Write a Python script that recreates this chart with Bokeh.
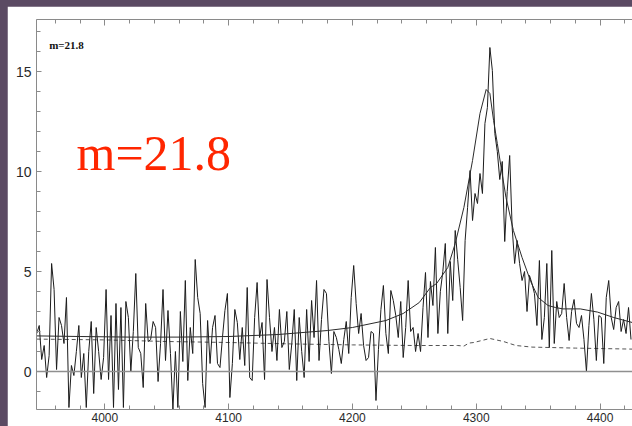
import numpy as np
from bokeh.plotting import figure
from bokeh.models import (LinearAxis, SingleIntervalTicker, Span, Range1d,
                          GlobalInlineStyleSheet, CustomLabelingPolicy)
from bokeh.core.properties import value
from bokeh.embed import file_html
from bokeh.resources import INLINE

# ---------------- data ----------------
wave_start = 3945
wave_step = 2

flux_3945_4023 = [1.9, 2.3, 0.6, 1.3, -0.3, 0.8, 5.4, 4.1, 0.1, 2.7,
                  2.3, 1.4, 3.7, -1.8, 0.3, -0.2, 1.0, 2.3, -0.3, 0.9,
                  -1.8, 1.0, 2.5, -1.1, 2.2, 1.0, -0.4, 0.7, 4.1, -0.4,
                  2.8, -1.8, 3.4, -0.9, 3.2, -1.8, 3.5, 2.7, 0.0, 2.0]
flux_4025_4105 = [4.9, 1.2, 0.9, -0.8, 3.4, 1.5, 1.6, 2.5, 2.2, -0.5,
                  1.4, 4.1, 0.55, 3.05, 0.9, -1.9, 1.0, -1.8, 3.0, 0.5,
                  4.55, -0.45, 2.2, 0.9, 5.6, 3.7, 2.9, -0.6, -1.8, 2.55,
                  0.4, 2.2, 2.8, 0.4, 0.2, 1.7, 3.05, 3.9, -1.3, 0.4, 3.1]
flux_4107_4187 = [2.45, 0.6, 2.2, 0.3, 4.2, -0.3, -0.45, 2.7, 4.45, 1.7,
                  2.45, -0.4, 4.6, 2.7, 1.0, 2.2, 0.55, 3.1, 1.2, 1.5,
                  3.0, 0.1, 1.4, 3.1, -0.45, 2.7, 1.0, -0.3, 3.1, 0.5,
                  3.55, 1.7, 4.55, 0.55, 2.6, 4.1, 3.9, 1.5, -0.1, 2.0, 1.7]
flux_4189_4267 = [1.1, 0.4, 1.6, 2.5, 0.9, 3.7, 5.3, 3.4, 1.9, 2.9,
                  1.3, 0.55, 0.7, 2.0, 1.9, -1.45, 1.1, 3.1, 4.3, 1.9,
                  0.9, 4.05, 3.55, 2.8, 1.7, 3.5, 0.7, 2.2, 4.55, 2.0,
                  2.2, 1.0, 1.9, 1.0, 3.2, 4.95, 1.7, 4.5, 3.3, 6.2]
flux_4269_4343 = [1.9, 4.0, 5.0, 6.4, 1.9, 5.5, 3.55, 7.05, 5.6, 4.2,
                  2.55, 6.55, 8.2, 10.05, 7.55, 8.9, 8.4, 9.9, 8.9, 12.4,
                  13.2, 16.2, 15.05, 11.9, 11.0, 9.6, 10.5, 6.5, 9.0, 10.8,
                  7.2, 5.4, 6.55, 5.4, 4.55, 5.0, 3.0, 4.8]
flux_4345_4425 = [4.4, 3.9, 2.3, 5.55, 1.6, 2.7, 5.4, 1.2, 6.05, 1.4,
                  3.5, 2.7, 2.9, 4.4, 2.7, 1.55, 3.0, 3.6, 2.4, 2.2,
                  2.8, 1.6, 0.0, 2.3, 3.9, 2.6, 0.55, 2.8, 2.7, 0.4,
                  3.7, 4.55, 2.7, 2.1, 3.2, 3.5, 2.0, 2.6, 1.9, 3.2, 1.6]

model_wave = [3945, 3980, 4020, 4060, 4100, 4140, 4180, 4200, 4227, 4241,
              4254, 4263, 4268, 4277, 4283, 4290, 4297, 4303, 4308, 4311,
              4314, 4317, 4324, 4330, 4337, 4344, 4350, 4358, 4364, 4370,
              4384, 4398, 4411, 4426]
model_flux = [1.78, 1.75, 1.72, 1.72, 1.75, 1.85, 2.05, 2.2, 2.55, 2.9,
              3.45, 4.2, 4.4, 5.2, 6.4, 8.2, 10.55, 12.9, 14.1, 13.9,
              12.55, 11.4, 8.7, 7.05, 5.7, 4.5, 3.7, 3.3, 3.2, 3.13,
              3.13, 2.97, 2.7, 2.45]

err_wave = [3945, 4000, 4050, 4100, 4150, 4200, 4250, 4285, 4290, 4294,
            4298, 4311, 4322, 4332, 4345, 4380, 4426]
err_flux = [1.62, 1.58, 1.5, 1.45, 1.38, 1.33, 1.3, 1.3, 1.27, 1.42,
            1.45, 1.65, 1.5, 1.3, 1.22, 1.17, 1.12]

x_tick_interval = 100
y_tick_interval = 5
label_text = "m=21.8"
small_label_pos = (3955.0, 16.35)
big_label_pos = (3977.1, 10.95)

flux = (flux_3945_4023 + flux_4025_4105 + flux_4107_4187 +
        flux_4189_4267 + flux_4269_4343 + flux_4345_4425)
wave = [wave_start + wave_step * i for i in range(len(flux))]

# ---------------- figure ----------------
p = figure(width=625, height=420, output_backend="svg", toolbar_location=None,
           x_range=Range1d(3944.8, 4426.2), y_range=Range1d(-1.9, 17.6),
           x_axis_location=None, y_axis_location=None,
           min_border_left=29, min_border_right=0,
           min_border_top=13, min_border_bottom=17)
p.grid.visible = False
p.outline_line_color = None
p.background_fill_color = "white"
p.border_fill_color = "white"
p.stylesheets = [GlobalInlineStyleSheet(
    css="html, body { background: #5b4a63; overflow: hidden; } "
        "body { margin: 6px 0 0 7px; }")]

axis_col = "#8a8a8a"
lab_col = "#2a2a2a"

def style_axis(ax, major_in, minor_in):
    ax.axis_line_color = axis_col
    ax.major_tick_line_color = axis_col
    ax.minor_tick_line_color = axis_col
    ax.major_tick_in = major_in
    ax.major_tick_out = 0
    ax.minor_tick_in = minor_in
    ax.minor_tick_out = 0
    ax.major_label_text_color = lab_col
    ax.major_label_text_font = "Liberation Sans"

xb = LinearAxis(ticker=SingleIntervalTicker(interval=x_tick_interval, num_minor_ticks=5))
style_axis(xb, 6, 4)
xb.major_label_text_font_size = "12px"
xb.major_label_standoff = 3
p.add_layout(xb, "below")

xt = LinearAxis(ticker=SingleIntervalTicker(interval=x_tick_interval, num_minor_ticks=5))
style_axis(xt, 6, 4)
xt.major_label_standoff = 0
xt.major_label_policy = CustomLabelingPolicy(code="return []")
p.add_layout(xt, "above")

yl = LinearAxis(ticker=SingleIntervalTicker(interval=y_tick_interval, num_minor_ticks=5))
style_axis(yl, 5, 4)
yl.major_label_text_font_size = "14px"
yl.major_label_standoff = 5
p.add_layout(yl, "left")

p.add_layout(Span(location=0, dimension="width", line_color="#8f8f8f", line_width=1.5))

p.line(err_wave, err_flux, line_color="#555555", line_width=1, line_dash="4 3")
p.line(wave, flux, line_color="#1c1c1c", line_width=1)
p.line(model_wave, model_flux, line_color="#2a2a2a", line_width=1)

p.text(x=[small_label_pos[0]], y=[small_label_pos[1]], text=[label_text],
       text_font=value("Liberation Serif"), text_font_style="bold",
       text_font_size="11px", text_color="#111111",
       text_baseline="middle", text_align="left")
p.text(x=[big_label_pos[0]], y=[big_label_pos[1]], text=[label_text],
       text_font=value("Liberation Serif"), text_font_size="50px",
       text_color="#ff2600", text_baseline="middle", text_align="left")

open("out.html", "w").write(file_html(p, INLINE))
